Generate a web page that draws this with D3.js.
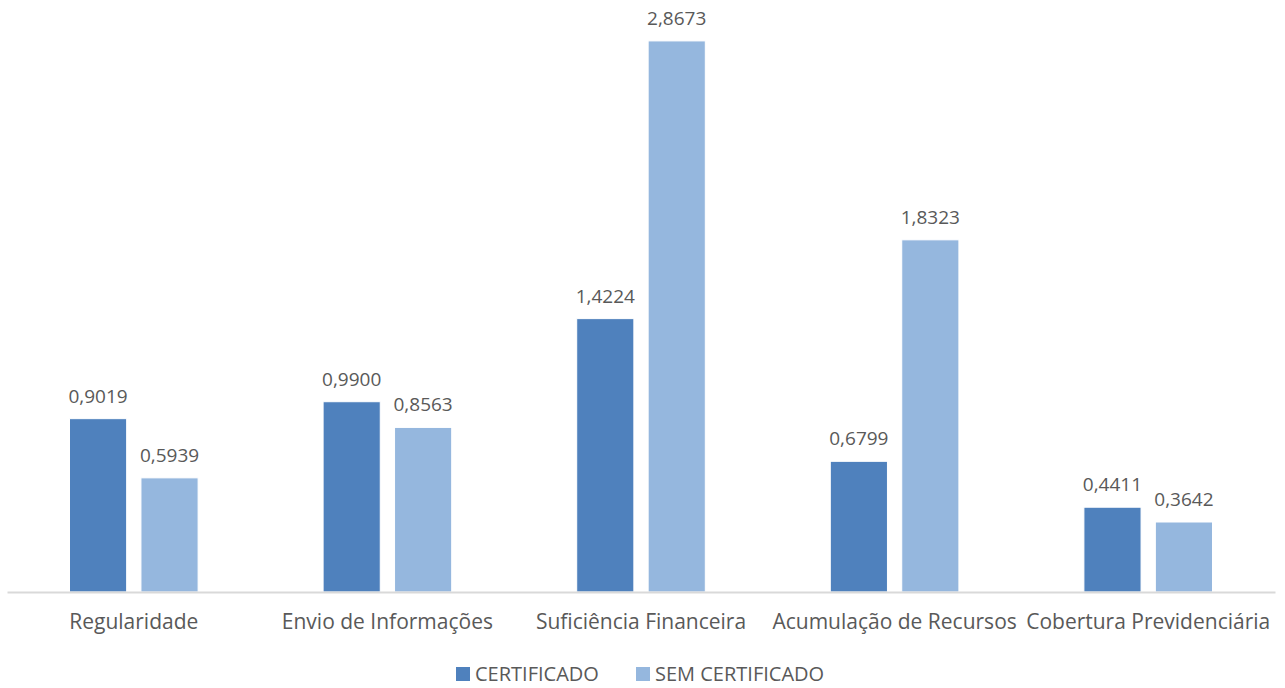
<!DOCTYPE html>
<html>
<head>
<meta charset="utf-8">
<script src="https://d3js.org/d3.v7.min.js"></script>
<style>
body { margin: 0; background: #fff; }
svg { display: block; }
text { font-family: "Open Sans", "Noto Sans", sans-serif; fill: #595959; }
</style>
</head>
<body>
<svg id="chart" width="1285" height="688"></svg>
<script>
var categories = ["Regularidade", "Envio de Informações", "Suficiência Financeira", "Acumulação de Recursos", "Cobertura Previdenciária"];
var seriesNames = ["CERTIFICADO", "SEM CERTIFICADO"];
var certificado = [0.9019, 0.9900, 1.4224, 0.6799, 0.4411];
var semCertificado = [0.5939, 0.8563, 2.8673, 1.8323, 0.3642];
var colors = ["#4F81BD", "#95B7DE"];

var svg = d3.select("#chart");
var left = 7, right = 1275, baseY = 592;

var x0 = d3.scaleBand().domain(categories).range([left, right]).paddingInner(0).paddingOuter(0);
var x1 = d3.scaleBand().domain(seriesNames).range([62.5, x0.bandwidth() - 62.5]).paddingInner(0.2);
var y = d3.scaleLinear().domain([0, 3]).range([baseY, baseY - 3 * 192.2]);

var rows = categories.map(function (c, i) {
  return { cat: c, vals: [certificado[i], semCertificado[i]] };
});

var groups = svg.selectAll("g.grp").data(rows).enter().append("g")
  .attr("class", "grp")
  .attr("transform", function (d) { return "translate(" + x0(d.cat) + ",0)"; });

groups.selectAll("rect").data(function (d) { return d.vals; }).enter().append("rect")
  .attr("x", function (d, i) { return x1(seriesNames[i]); })
  .attr("y", function (d) { return y(d); })
  .attr("width", x1.bandwidth())
  .attr("height", function (d) { return baseY - y(d); })
  .attr("fill", function (d, i) { return colors[i]; })
  .attr("stroke", "#fff")
  .attr("stroke-width", 1);

groups.selectAll("text.val").data(function (d) { return d.vals; }).enter().append("text")
  .attr("class", "val")
  .attr("x", function (d, i) { return x1(seriesNames[i]) + x1.bandwidth() / 2; })
  .attr("y", function (d) { return y(d) - 16; })
  .attr("text-anchor", "middle")
  .attr("font-size", 19)
  .text(function (d) { return d.toFixed(4).replace(".", ","); });

// axis
var xAxis = d3.axisBottom(x0).tickSize(0).tickPadding(22);
var ax = svg.append("g").attr("transform", "translate(0," + baseY + ")").call(xAxis);
ax.select(".domain").attr("stroke", "#D9D9D9").attr("stroke-width", 2);
ax.selectAll("text").attr("font-size", 21).attr("fill", "#595959")
  .style("font-family", "'Open Sans', 'Noto Sans', sans-serif");

// legend
var legX = [456, 636];
var leg = svg.selectAll("g.leg").data(seriesNames).enter().append("g")
  .attr("class", "leg")
  .attr("transform", function (d, i) { return "translate(" + legX[i] + ",667)"; });
leg.append("rect").attr("width", 14).attr("height", 14)
  .attr("fill", function (d, i) { return colors[i]; });
leg.append("text").attr("x", 19).attr("y", 14).attr("font-size", 20).text(function (d) { return d; });
</script>
</body>
</html>
